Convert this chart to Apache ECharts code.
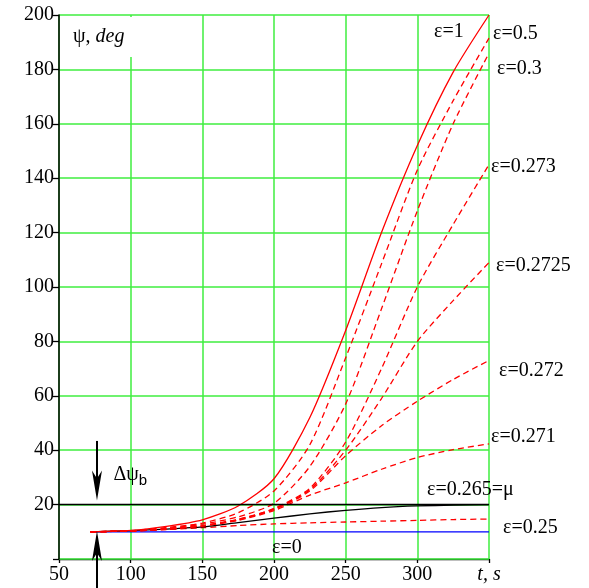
<!DOCTYPE html>
<html>
<head>
<meta charset="utf-8">
<script src="https://cdn.jsdelivr.net/npm/echarts@6/dist/echarts.min.js"></script>
<style>
  html, body { margin: 0; padding: 0; background: #fff; }
  #main { width: 589px; height: 588px; }
</style>
</head>
<body>
<div id="main"></div>
<script>
  // time, s
  var times = [72, 100, 125, 150, 175, 200, 225, 250, 275, 300, 325, 350];

  // psi, deg for each epsilon
  var eps1     = [10, 10.5, 12.0, 14.4, 19.5, 29.5, 52, 84, 120, 152, 179, 200];
  var eps05    = [10, 10.4, 11.6, 13.2, 17.0, 25.0, 42, 74, 108.5, 143, 168.5, 191.5];
  var eps03    = [10, 10.3, 11.3, 12.8, 15.5, 20.5, 34, 57, 92, 128, 160, 186];
  var eps0273  = [10, 10.3, 11.0, 12.3, 14.6, 18.6, 26, 43, 70, 100, 123, 145];
  var eps02725 = [10, 10.3, 11.0, 12.2, 14.5, 18.4, 25.5, 40, 59, 80, 95, 109];
  var eps0272  = [10, 10.3, 11.0, 12.2, 14.4, 18.2, 25, 38, 49, 58, 66, 73];
  var eps0271  = [10, 10.3, 10.9, 12.1, 14.2, 17.8, 23.5, 28, 33, 37.3, 40.2, 42.3];
  var eps0265  = [10, 10.4, 11.0, 11.8, 13.4, 15.0, 16.6, 17.9, 18.9, 19.5, 19.8, 20];
  var eps025   = [10, 10.3, 10.8, 11.5, 12.3, 12.9, 13.3, 13.6, 13.9, 14.2, 14.5, 14.7];
  var eps0     = [10, 10, 10, 10, 10, 10, 10, 10, 10, 10, 10, 10];

  var xTicks = [50, 100, 150, 200, 250, 300, 350];
  var yTicks = [0, 20, 40, 60, 80, 100, 120, 140, 160, 180, 200];

  var psiB = 20;          // boundary level
  var psi0 = 10;          // start level
  var arrowT = 76.5;      // where the arrows stand

  var serif = '"Liberation Serif", "DejaVu Serif", serif';

  var myChart = echarts.init(document.getElementById('main'));

  var pairs = function(ys) {
    return times.map(function(t, i) { return [t, ys[i]]; });
  };

  var makeSerie = function(name, ys, color, dashed, offset, extra) {
    var serie = {
      name: name,
      type: 'line',
      data: pairs(ys),
      smooth: 0.25,
      showSymbol: false,
      symbol: 'none',
      lineStyle: {
        color: color,
        width: 1.3,
        type: dashed ? [6, 4] : 'solid'
      },
      endLabel: {
        show: true,
        formatter: name,
        distance: 0,
        offset: offset,
        color: '#000',
        fontFamily: serif,
        fontSize: 20
      }
    };
    if (extra) {
      Object.keys(extra).forEach(function(k) { serie[k] = extra[k]; });
    }
    return serie;
  };

  var series = [
    makeSerie('ε=0', eps0, '#0000ff', false, [-217, 16], {
      markPoint: {
        silent: true,
        symbol: 'circle',
        symbolSize: 0,
        data: [{ coord: [88, 31] }],
        label: {
          show: true,
          position: 'right',
          distance: 0,
          formatter: '{a|Δψ}{b|b}',
          rich: {
            a: { fontFamily: serif, fontSize: 20, color: '#000' },
            b: { fontFamily: '"Liberation Sans", Arial, sans-serif', fontSize: 15, color: '#000', padding: [12, 0, 0, 0] }
          }
        }
      }
    }),
    makeSerie('ε=0.25', eps025, '#ff0000', true, [14, 9]),
    makeSerie('ε=0.265=μ', eps0265, '#000000', false, [-62, -15], {
      markLine: {
        silent: true,
        symbol: ['none', 'none'],
        label: { show: false },
        lineStyle: { color: '#000', width: 1.3, type: 'solid' },
        data: [{ yAxis: psiB }]
      }
    }),
    makeSerie('ε=0.271', eps0271, '#ff0000', true, [2, -7]),
    makeSerie('ε=0.272', eps0272, '#ff0000', true, [10, 10]),
    makeSerie('ε=0.2725', eps02725, '#ff0000', true, [7, 3]),
    makeSerie('ε=0.273', eps0273, '#ff0000', true, [2, 2]),
    makeSerie('ε=0.3', eps03, '#ff0000', true, [8, 16]),
    makeSerie('ε=0.5', eps05, '#ff0000', true, [4, -4]),
    makeSerie('ε=1', eps1, '#ff0000', false, [-55, 17])
  ];

  var option = {
    animation: false,
    backgroundColor: '#fff',
    grid: {
      left: 59,
      right: 100,
      top: 15,
      bottom: 29,
      outerBoundsMode: 'none'
    },
    xAxis: {
      type: 'value',
      min: xTicks[0],
      max: xTicks[xTicks.length - 1],
      interval: 50,
      z: 0,
      axisLine: { show: true, lineStyle: { color: '#000', width: 1.3 } },
      axisTick: { show: true, length: 4, lineStyle: { color: '#000', width: 1.3 } },
      axisLabel: {
        color: '#000',
        fontFamily: serif,
        fontSize: 20,
        margin: 6,
        formatter: function(v) {
          return v === 350 ? '{i|t, s}' : String(v);
        },
        rich: {
          i: { fontFamily: serif, fontSize: 20, fontStyle: 'italic', color: '#000' }
        }
      },
      splitLine: { show: true, lineStyle: { color: '#3fee3f', width: 1.5 } }
    },
    yAxis: {
      type: 'value',
      min: yTicks[0],
      max: yTicks[yTicks.length - 1],
      interval: 20,
      z: 1,
      axisLine: { show: true, lineStyle: { color: '#000', width: 1.5 } },
      axisTick: { show: true, length: 6, lineStyle: { color: '#000', width: 1.3 } },
      axisLabel: {
        color: '#000',
        fontFamily: serif,
        fontSize: 20,
        margin: 5,
        formatter: function(v) {
          return v === 0 ? '' : String(v);
        }
      },
      splitLine: { show: true, lineStyle: { color: '#3fee3f', width: 1.5 } }
    },
    series: series
  };

  myChart.setOption(option);

  // axis title and the two arrows, placed through the chart's own scales
  var px = function(t, psi) {
    return myChart.convertToPixel({ gridIndex: 0 }, [t, psi]);
  };

  var arrow = function(from, to) {
    var a = px(arrowT, from);
    var b = px(arrowT, to);
    var dir = b[1] > a[1] ? 1 : -1;
    var tipY = b[1];
    return [{
      type: 'line',
      silent: true,
      z: 20,
      shape: { x1: a[0], y1: a[1], x2: b[0], y2: tipY - dir * 20 },
      style: { stroke: '#000', lineWidth: 2 }
    }, {
      type: 'polygon',
      silent: true,
      z: 20,
      shape: {
        points: [
          [b[0], tipY],
          [b[0] - 5, tipY - dir * 30],
          [b[0], tipY - dir * 22],
          [b[0] + 5, tipY - dir * 30]
        ]
      },
      style: { fill: '#000' }
    }];
  };

  var corner = px(xTicks[0], yTicks[yTicks.length - 1]);

  var graphics = [].concat(
    arrow(43.4, psiB + 1.5),
    arrow(-11, psi0 + 0.3),
    [{
      type: 'rect',
      silent: true,
      z: 10,
      shape: { x: corner[0] + 2, y: corner[1] + 2, width: 82, height: 40 },
      style: { fill: '#fff' }
    }, {
      type: 'text',
      silent: true,
      z: 11,
      x: corner[0] + 14,
      y: corner[1] + 12,
      style: {
        text: '{u|ψ, }{i|deg}',
        rich: {
          u: { fontFamily: serif, fontSize: 20, fill: '#000' },
          i: { fontFamily: serif, fontSize: 20, fontStyle: 'italic', fill: '#000' }
        }
      }
    }]
  );

  myChart.setOption({ graphic: graphics });
</script>
</body>
</html>
